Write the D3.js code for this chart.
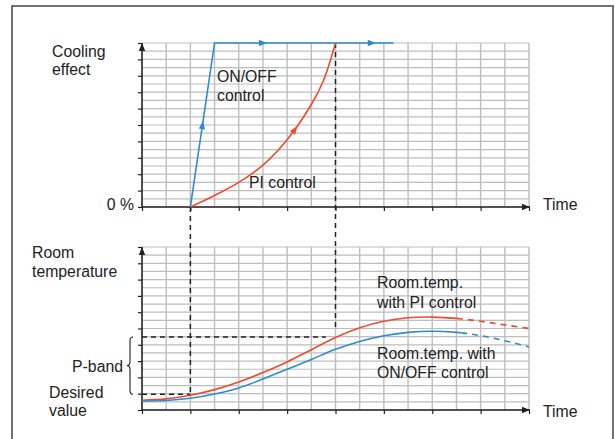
<!DOCTYPE html>
<html>
<head>
<meta charset="utf-8">
<script src="https://cdn.jsdelivr.net/npm/d3@7"></script>
<style>
  body { margin: 0; background: #fff; }
  svg text { font-family: "Liberation Sans", Arial, Helvetica, sans-serif; font-size: 15.8px; fill: #222; }
</style>
</head>
<body>
<svg width="615" height="439"></svg>
<script>
// data: x in grid columns (0..16), y in grid units (0..10)
let onoffEffect = [[2, 0], [3, 10], [10.4, 10]];
let piEffect = [[2, 0], [3, 0.7], [4, 1.5], [5, 2.55], [6, 4.1], [7, 6.25], [7.5, 7.7], [8, 10]];
let piTemp = [[0, 0.6], [1, 0.68], [2, 0.9], [3, 1.25], [4, 1.72], [5, 2.3], [6, 2.95], [7, 3.7], [8, 4.45], [9, 5.05], [10, 5.45], [11, 5.66], [12, 5.7], [13, 5.62], [14, 5.44], [15, 5.22], [16, 5.0]];
let onoffTemp = [[0, 0.55], [1, 0.58], [2, 0.72], [3, 0.98], [4, 1.35], [5, 1.9], [6, 2.5], [7, 3.1], [8, 3.72], [9, 4.2], [10, 4.55], [11, 4.76], [12, 4.83], [13, 4.76], [14, 4.56], [15, 4.25], [16, 3.87]];
let dashFrom = 13.2;               // curves go dashed after this column
let onoffArrows = [2.5, 5, 9.5];   // columns where arrows sit on the ON/OFF line
let piArrows = [6.32];
let desired = 0.97, pbandTop = 4.48;
let yTicks = d3.range(0, 11), xTicks = d3.range(0, 17, 2);

let svg = d3.select("svg");
let blue = "#2a8bd0", red = "#ef4a2f", ink = "#222";

let x = d3.scaleLinear().domain([0, 16]).range([142, 529]);
let yTop = d3.scaleLinear().domain([0, 10]).range([207, 43]);
let yBot = d3.scaleLinear().domain([0, 10]).range([410, 247]);

// frame
svg.append("rect").attr("x", 12).attr("y", 6).attr("width", 601).attr("height", 460)
  .attr("fill", "none").attr("stroke", "#444").attr("stroke-width", 1.5);

let defs = svg.append("defs");
defs.append("marker").attr("id", "ax").attr("viewBox", "0 0 10 10")
  .attr("refX", 10).attr("refY", 5).attr("markerWidth", 8).attr("markerHeight", 8)
  .attr("markerUnits", "userSpaceOnUse").attr("orient", "auto")
  .append("path").attr("d", "M0,1L10,5L0,9Z").attr("fill", ink);

function panel(y) {
  let g = svg.append("g");
  // grid
  g.selectAll(".h").data(d3.range(0, 10.01, 0.5)).enter().append("line")
    .attr("x1", x(0)).attr("x2", x(16)).attr("y1", d => y(d)).attr("y2", d => y(d))
    .attr("stroke", "#bdbdbd").attr("stroke-width", 1.2);
  g.selectAll(".v").data(d3.range(1, 17)).enter().append("line")
    .attr("x1", d => x(d)).attr("x2", d => x(d)).attr("y1", y(0)).attr("y2", y(10))
    .attr("stroke", "#bdbdbd").attr("stroke-width", 1.4);
  // axes
  let ya = g.append("g").attr("transform", `translate(${x(0)},0)`)
    .call(d3.axisLeft(y).tickValues(yTicks).tickSize(4).tickSizeOuter(0).tickFormat(""));
  let xa = g.append("g").attr("transform", `translate(0,${y(0)})`)
    .call(d3.axisBottom(x).tickValues(xTicks).tickSize(4).tickSizeOuter(0).tickFormat(""));
  [ya, xa].forEach(a => {
    a.select(".domain").remove();
    a.selectAll("line").attr("stroke", ink).attr("stroke-width", 1.2);
  });
  g.append("line").attr("x1", x(0)).attr("x2", x(0)).attr("y1", y(0)).attr("y2", y(10))
    .attr("stroke", ink).attr("stroke-width", 1.6).attr("marker-end", "url(#ax)");
  g.append("line").attr("x1", x(0)).attr("x2", x(16) + 1).attr("y1", y(0)).attr("y2", y(0))
    .attr("stroke", ink).attr("stroke-width", 1.6).attr("marker-end", "url(#ax)");
  return g;
}
panel(yTop);
panel(yBot);

// dashed guide lines
let guides = [
  [x(2), yTop(0), x(2), yBot(desired)],
  [x(0), yBot(desired), x(2), yBot(desired)],
  [x(8), yTop(10), x(8), yBot(4.9)],
  [x(0), yBot(pbandTop), x(7.6), yBot(pbandTop)]
];
svg.selectAll(".guide").data(guides).enter().append("line")
  .attr("x1", d => d[0]).attr("y1", d => d[1]).attr("x2", d => d[2]).attr("y2", d => d[3])
  .attr("stroke", ink).attr("stroke-width", 1.5).attr("stroke-dasharray", "5,4");

// top curves
let lineTop = d3.line().x(d => x(d[0])).y(d => yTop(d[1]));
let pOn = svg.append("path").datum(onoffEffect).attr("d", lineTop)
  .attr("fill", "none").attr("stroke", blue).attr("stroke-width", 1.6);
let pPi = svg.append("path").datum(piEffect).attr("d", lineTop.curve(d3.curveCatmullRom.alpha(0.5)))
  .attr("fill", "none").attr("stroke", red).attr("stroke-width", 1.6);

function arrowAt(path, col, color) {
  let node = path.node(), L = node.getTotalLength(), tx = x(col);
  let lo = 0, hi = L;
  for (let i = 0; i < 40; i++) {
    let m = (lo + hi) / 2;
    if (node.getPointAtLength(m).x < tx) lo = m; else hi = m;
  }
  let p = node.getPointAtLength(lo), q = node.getPointAtLength(Math.min(L, lo + 2));
  let a = Math.atan2(q.y - p.y, q.x - p.x) * 180 / Math.PI;
  svg.append("path").attr("d", "M4,0L-4,-3.2L-4,3.2Z").attr("fill", color)
    .attr("transform", `translate(${p.x},${p.y}) rotate(${a})`);
}
onoffArrows.forEach(c => arrowAt(pOn, c, blue));
piArrows.forEach(c => arrowAt(pPi, c, red));

// bottom curves: solid then dashed
let lineBot = d3.line().x(d => x(d[0])).y(d => yBot(d[1])).curve(d3.curveCatmullRom.alpha(0.5));
defs.append("clipPath").attr("id", "solid").append("rect")
  .attr("x", 0).attr("y", 0).attr("width", x(dashFrom)).attr("height", 439);
defs.append("clipPath").attr("id", "dash").append("rect")
  .attr("x", x(dashFrom)).attr("y", 0).attr("width", 615).attr("height", 439);
[[piTemp, red], [onoffTemp, blue]].forEach(([d, c]) => {
  svg.append("path").datum(d).attr("d", lineBot).attr("fill", "none")
    .attr("stroke", c).attr("stroke-width", 1.6).attr("clip-path", "url(#solid)");
  svg.append("path").datum(d).attr("d", lineBot).attr("fill", "none")
    .attr("stroke", c).attr("stroke-width", 1.6).attr("stroke-dasharray", "6,5")
    .attr("clip-path", "url(#dash)");
});

// P-band brace
let b0 = yBot(pbandTop), b1 = yBot(desired), bm = (b0 + b1) / 2, bx = 130;
svg.append("path")
  .attr("d", `M${bx + 3},${b0}Q${bx},${b0} ${bx},${b0 + 4}L${bx},${bm - 4}Q${bx},${bm} ${bx - 3},${bm}` +
             `Q${bx},${bm} ${bx},${bm + 4}L${bx},${b1 - 4}Q${bx},${b1} ${bx + 3},${b1}`)
  .attr("fill", "none").attr("stroke", ink).attr("stroke-width", 1.1);

// labels
let labels = [
  ["Cooling", 52, 57, "start"], ["effect", 52, 75, "start"],
  ["ON/OFF", 217, 82, "start"], ["control", 217, 101, "start"],
  ["PI control", 249, 188, "start"],
  ["0 %", 134, 210, "end"], ["Time", 543, 210, "start"],
  ["Room", 32, 258, "start"], ["temperature", 32, 277, "start"],
  ["P-band", 123, 372, "end"],
  ["Desired", 49, 398, "start"], ["value", 49, 416, "start"],
  ["Room.temp.", 377, 288, "start"], ["with PI control", 377, 308, "start"],
  ["Room.temp. with", 377, 359, "start"], ["ON/OFF control", 377, 378, "start"],
  ["Time", 543, 417, "start"]
];
svg.selectAll(".lbl").data(labels).enter().append("text")
  .attr("x", d => d[1]).attr("y", d => d[2]).attr("text-anchor", d => d[3]).text(d => d[0]);
</script>
</body>
</html>
